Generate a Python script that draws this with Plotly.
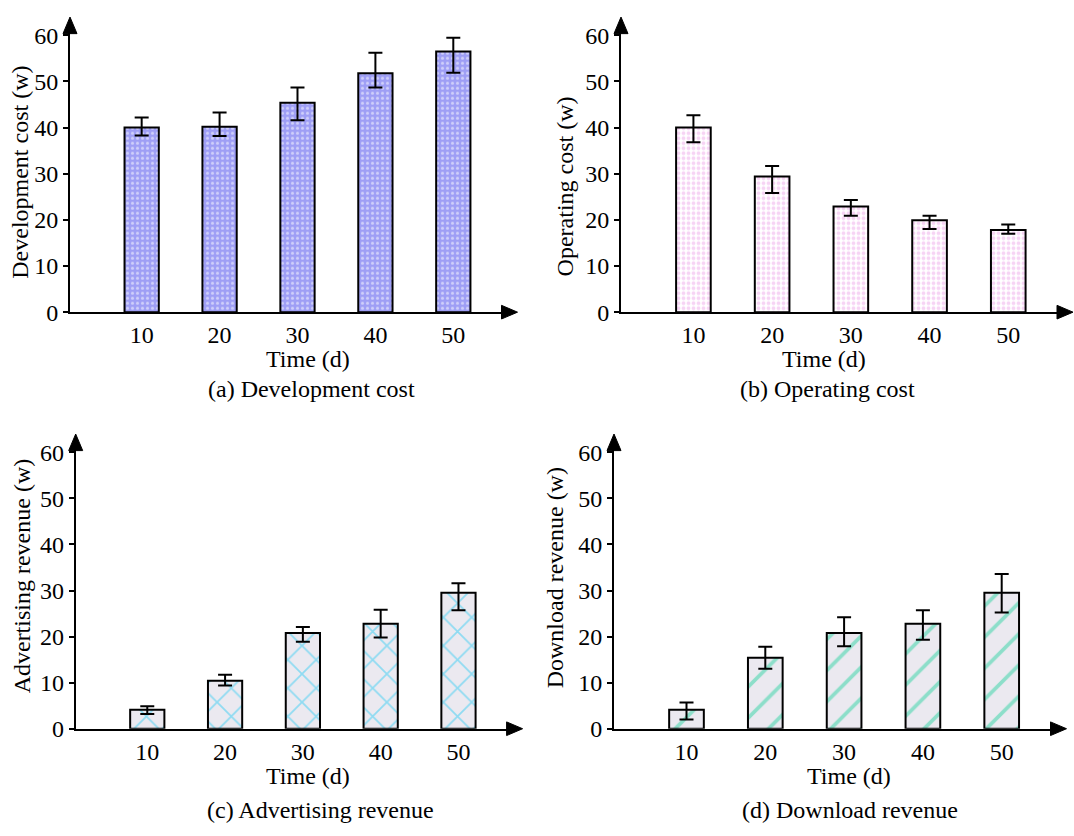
import plotly.graph_objects as go

# ---------------- data ----------------
time_labels = ["10", "20", "30", "40", "50"]

dev_cost = [40.0, 40.2, 45.4, 51.8, 56.5]
dev_err_plus = [2.2, 3.1, 3.3, 4.4, 3.0]
dev_err_minus = [1.7, 2.0, 3.8, 3.1, 4.6]

op_cost = [40.0, 29.4, 22.9, 19.9, 17.8]
op_err_plus = [2.7, 2.3, 1.4, 1.0, 1.2]
op_err_minus = [3.2, 3.6, 2.0, 1.9, 0.8]

ad_rev = [4.1, 10.4, 20.8, 22.8, 29.5]
ad_err_plus = [0.8, 1.3, 1.3, 3.0, 2.1]
ad_err_minus = [0.9, 1.0, 1.9, 3.0, 3.8]

dl_rev = [4.1, 15.4, 20.8, 22.8, 29.5]
dl_err_plus = [1.6, 2.4, 3.4, 2.9, 4.1]
dl_err_minus = [2.1, 2.4, 2.9, 3.5, 4.3]

y_ticks = [0, 10, 20, 30, 40, 50, 60]

# ---------------- layout helpers ----------------
W, H = 1074, 836
FONT = "Liberation Serif, Times New Roman, serif"
FS = 24


def px(x):
    return x / W


def py(y):
    return 1 - y / H


panels = [
    dict(vals=dev_cost, ep=dev_err_plus, em=dev_err_minus,
         ytitle="Development cost (w)", caption="(a) Development cost",
         x0=70, x1=505.5, yz=312, yt=23.3,
         pattern=dict(shape=".", fgcolor="#ffffff", bgcolor="#9e9ef5", size=5, solidity=0.3),
         ytitle_x=20, ytitle_y=169, xt=(308, 360), cap=(311, 391)),
    dict(vals=op_cost, ep=op_err_plus, em=op_err_minus,
         ytitle="Operating cost (w)", caption="(b) Operating cost",
         x0=621, x1=1061, yz=312, yt=23.3,
         pattern=dict(shape=".", fgcolor="#eeaaea", bgcolor="#ffffff", size=5, solidity=0.45),
         ytitle_x=565, ytitle_y=183, xt=(824, 360), cap=(827, 391)),
    dict(vals=ad_rev, ep=ad_err_plus, em=ad_err_minus,
         ytitle="Advertising revenue (w)", caption="(c) Advertising revenue",
         x0=75.7, x1=510.6, yz=739.3, yt=451,
         pattern=dict(shape="x", fgcolor="#33cdf3", bgcolor="#ebe9f0", size=20, solidity=0.17),
         ytitle_x=22, ytitle_y=583, xt=(308, 788), cap=(320, 823)),
    dict(vals=dl_rev, ep=dl_err_plus, em=dl_err_minus,
         ytitle="Download revenue (w)", caption="(d) Download revenue",
         x0=614, x1=1054.5, yz=739.3, yt=451,
         pattern=dict(shape="/", fgcolor="#2fd3a3", bgcolor="#ebe9f0", size=22, solidity=0.17),
         ytitle_x=555, ytitle_y=585, xt=(849, 788), cap=(850, 823)),
]

fig = go.Figure()
layout = dict(
    width=W, height=H,
    margin=dict(l=0, r=0, t=0, b=0),
    paper_bgcolor="white", plot_bgcolor="white",
    showlegend=False,
    font=dict(family=FONT, size=FS, color="black"),
)
annotations = []
shapes = []

for i, p in enumerate(panels):
    n = "" if i == 0 else str(i + 1)
    xa, ya = "x" + n, "y" + n
    fig.add_trace(go.Bar(
        x=time_labels, y=p["vals"], xaxis=xa, yaxis=ya,
        width=0.44,
        marker=dict(color=p["pattern"]["bgcolor"], pattern=p["pattern"],
                    line=dict(color="black", width=2)),
        error_y=dict(type="data", array=p["ep"], arrayminus=p["em"],
                     symmetric=False, color="black", thickness=2, width=7),
    ))
    layout["xaxis" + n] = dict(
        domain=[px(p["x0"]), px(p["x1"])], anchor=ya, type="category",
        range=[-0.92, 4.67], showgrid=False, zeroline=False,
        showline=True, linecolor="black", linewidth=2, ticks="",
        tickfont=dict(family=FONT, size=FS, color="black"),
    )
    layout["yaxis" + n] = dict(
        domain=[py(p["yz"]), py(p["yt"])], anchor=xa,
        range=[0, 61], tickvals=y_ticks, showgrid=False, zeroline=False,
        showline=True, linecolor="black", linewidth=2,
        ticks="outside", ticklen=5, tickwidth=1.5, tickcolor="black",
        tickfont=dict(family=FONT, size=FS, color="black"),
    )
    annotations.append(dict(x=px(p["xt"][0]), y=py(p["xt"][1]), xref="paper", yref="paper",
                            text="Time (d)", showarrow=False, xanchor="center", yanchor="middle",
                            font=dict(family=FONT, size=FS, color="black")))
    annotations.append(dict(x=px(p["cap"][0]), y=py(p["cap"][1]), xref="paper", yref="paper",
                            text=p["caption"], showarrow=False, xanchor="center", yanchor="middle",
                            font=dict(family=FONT, size=FS, color="black")))
    annotations.append(dict(x=px(p["ytitle_x"]), y=py(p["ytitle_y"]), xref="paper", yref="paper",
                            text=p["ytitle"], showarrow=False, textangle=-90,
                            xanchor="center", yanchor="middle",
                            font=dict(family=FONT, size=FS, color="black")))
    bx = p["x1"] - 4
    tx = bx + 16
    yz = p["yz"]
    shapes.append(dict(type="path", xref="paper", yref="paper",
                       path=f"M {px(bx)} {py(yz - 7)} L {px(tx)} {py(yz)} L {px(bx)} {py(yz + 7)} Z",
                       fillcolor="black", line=dict(color="black", width=1)))
    by = p["yt"] + 3
    ty = by - 17
    x0 = p["x0"]
    shapes.append(dict(type="path", xref="paper", yref="paper",
                       path=f"M {px(x0 - 7)} {py(by)} L {px(x0)} {py(ty)} L {px(x0 + 7)} {py(by)} Z",
                       fillcolor="black", line=dict(color="black", width=1)))

layout["annotations"] = annotations
layout["shapes"] = shapes
fig.update_layout(**layout)
fig.write_html("out.html")
